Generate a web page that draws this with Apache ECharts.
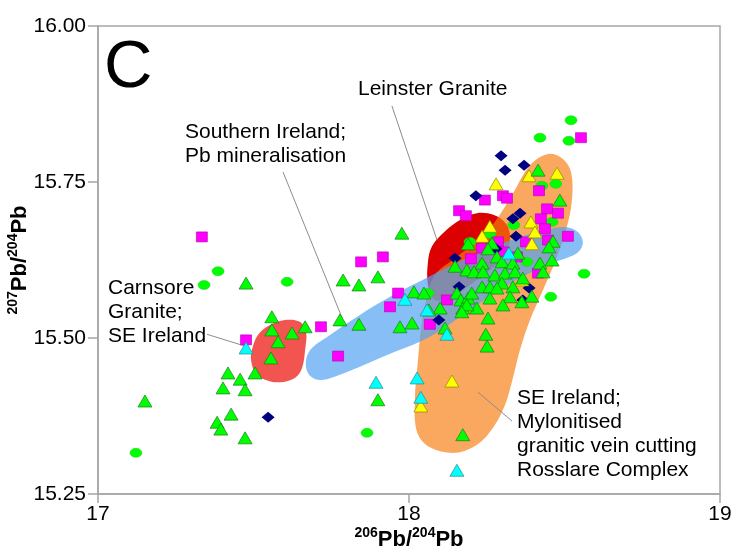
<!DOCTYPE html>
<html>
<head>
<meta charset="utf-8">
<script src="https://cdn.jsdelivr.net/npm/echarts@6/dist/echarts.min.js"></script>
<style>
  html, body { margin: 0; padding: 0; background: #fff; }
  #chart { width: 731px; height: 550px; }
</style>
</head>
<body>
<div id="chart"></div>
<script>
// axis ticks
const xTicks = [17, 18, 19];
const yTicks = [15.25, 15.5, 15.75, 16.0];

// sample groups (206Pb/204Pb, 207Pb/204Pb)
const greenTriangles = [
  [17.151,15.399],[17.476,15.588],[17.418,15.444],[17.457,15.434],[17.402,15.420],[17.473,15.417],
  [17.383,15.365],[17.395,15.354],[17.428,15.378],[17.473,15.340],[17.505,15.444],[17.559,15.534],
  [17.559,15.513],[17.579,15.494],[17.624,15.508],[17.666,15.518],[17.556,15.468],[17.778,15.529],
  [17.839,15.522],[17.788,15.593],[17.839,15.585],[17.900,15.598],[17.977,15.668],[17.971,15.518],
  [18.010,15.524],[18.016,15.574],[18.048,15.572],[18.116,15.516],[17.900,15.401],[18.173,15.345],
  [18.148,15.615],[18.154,15.572],[18.415,15.769],[18.485,15.721],[18.463,15.655],[18.267,15.652],
  [18.190,15.651],[18.450,15.646],[18.350,15.636],[18.235,15.620],[18.254,15.643],[18.186,15.609],
  [18.209,15.606],[18.238,15.606],[18.283,15.630],[18.167,15.561],[18.190,15.564],[18.235,15.582],
  [18.260,15.582],[18.218,15.548],[18.173,15.548],[18.100,15.548],[18.064,15.545],[18.202,15.572],
  [18.460,15.625],[18.421,15.620],[18.431,15.606],[18.299,15.622],[18.334,15.620],[18.276,15.601],
  [18.309,15.604],[18.341,15.606],[18.366,15.596],[18.299,15.588],[18.334,15.582],[18.283,15.580],
  [18.325,15.566],[18.260,15.564],[18.395,15.567],[18.302,15.553],[18.363,15.558],[18.254,15.532],
  [18.247,15.506],[18.251,15.487],[18.186,15.553],[18.170,15.542]
];
const greenCircles = [
  [17.122,15.316],[17.386,15.607],[17.341,15.585],[17.608,15.590],[17.865,15.348],[18.061,15.572],
  [18.521,15.849],[18.421,15.821],[18.514,15.816],[18.427,15.744],[18.472,15.747],[18.337,15.681],
  [18.460,15.686],[18.563,15.603],[18.260,15.667],[18.196,15.654],[18.379,15.622],[18.456,15.566]
];
const magentaSquares = [
  [17.334,15.662],[17.476,15.497],[17.717,15.518],[17.772,15.471],[17.846,15.622],[17.916,15.630],
  [17.965,15.572],[17.939,15.550],[18.067,15.522],[18.122,15.561],[18.161,15.704],[18.183,15.696],
  [18.553,15.821],[18.418,15.736],[18.244,15.721],[18.302,15.728],[18.315,15.724],[18.444,15.707],
  [18.479,15.700],[18.424,15.691],[18.437,15.675],[18.511,15.663],[18.376,15.654],[18.447,15.657],
  [18.286,15.654],[18.199,15.627],[18.235,15.644],[18.415,15.604],[18.347,15.630],[18.305,15.638]
];
const navyDiamonds = [
  [17.547,15.373],[18.096,15.529],[18.148,15.628],[18.161,15.582],[18.296,15.792],[18.309,15.769],
  [18.370,15.777],[18.215,15.728],[18.357,15.700],[18.334,15.691],[18.344,15.663],[18.280,15.643],
  [18.386,15.580],[18.366,15.561]
];
const yellowTriangles = [
  [18.386,15.760],[18.476,15.764],[18.280,15.747],[18.260,15.679],[18.235,15.663],[18.392,15.686],
  [18.405,15.670],[18.395,15.651],[18.138,15.431],[18.038,15.391],[18.363,15.593]
];
const cyanTriangles = [
  [17.476,15.484],[17.987,15.562],[18.058,15.545],[18.122,15.506],[18.321,15.636],[17.894,15.429],
  [18.026,15.436],[18.038,15.405],[18.154,15.288]
];

// field outlines
const carnsoreOutline = [
  [17.495,15.481],[17.514,15.505],[17.553,15.521],[17.601,15.529],[17.649,15.526],[17.669,15.510],
  [17.666,15.481],[17.656,15.452],[17.633,15.436],[17.585,15.429],[17.537,15.433],[17.505,15.445],
  [17.492,15.465]
];
const leinsterOutline = [
  [18.061,15.622],[18.074,15.647],[18.116,15.671],[18.164,15.689],[18.218,15.700],[18.273,15.697],
  [18.312,15.683],[18.325,15.660],[18.309,15.633],[18.260,15.609],[18.196,15.585],[18.132,15.564],
  [18.083,15.561],[18.061,15.585]
];
const myloniteOutline = [
  [18.447,15.795],[18.492,15.788],[18.521,15.766],[18.524,15.721],[18.505,15.673],[18.472,15.625],
  [18.431,15.577],[18.389,15.529],[18.357,15.481],[18.334,15.436],[18.309,15.393],[18.270,15.356],
  [18.222,15.330],[18.151,15.316],[18.067,15.325],[18.026,15.349],[18.019,15.401],[18.029,15.465],
  [18.038,15.513],[18.055,15.561],[18.083,15.601],[18.148,15.628],[18.222,15.657],[18.276,15.686],
  [18.331,15.729],[18.389,15.777]
];
const pbMinOutline = [
  [17.669,15.465],[17.688,15.484],[17.746,15.505],[17.842,15.537],[17.939,15.566],[18.067,15.599],
  [18.164,15.623],[18.260,15.644],[18.357,15.662],[18.437,15.673],[18.501,15.678],[18.543,15.670],
  [18.559,15.652],[18.537,15.635],[18.453,15.619],[18.357,15.596],[18.292,15.577],[18.196,15.545],
  [18.067,15.502],[17.916,15.470],[17.756,15.437],[17.707,15.433],[17.675,15.444]
];

// leader lines from labels to fields
const carnsoreLeader = [[17.350,15.506],[17.473,15.487]];
const pbMinLeader = [[17.595,15.766],[17.785,15.532]];
const leinsterLeader = [[17.945,15.872],[18.090,15.657]];
const myloniteLeader = [[18.222,15.413],[18.331,15.367]];

const FONT = 'Liberation Sans, Arial, sans-serif';

const regionSeries = (outline, color, z) => ({
  type: 'custom',
  silent: true,
  z: z,
  data: outline,
  renderItem: (params, api) => {
    if (params.dataIndex !== 0) return;
    return {
      type: 'polygon',
      shape: { points: outline.map(p => api.coord(p)), smooth: 0.35 },
      style: { fill: color }
    };
  }
});

const leader = (pts) => [{ coord: pts[0] }, { coord: pts[1] }];

const nameRich = {
  s: { fontSize: 14, fontWeight: 'bold', color: '#000', verticalAlign: 'top', lineHeight: 16, fontFamily: FONT },
  b: { fontSize: 22, fontWeight: 'bold', color: '#000', lineHeight: 28, fontFamily: FONT }
};

const chart = echarts.init(document.getElementById('chart'));

chart.setOption({
  animation: false,
  textStyle: { fontFamily: FONT },
  grid: {
    left: 98, right: 11, top: 26, bottom: 56,
    containLabel: false,
    outerBoundsMode: 'none',
    show: true, borderColor: '#a6a6a6', borderWidth: 1.5
  },
  xAxis: {
    type: 'value',
    min: xTicks[0], max: xTicks[xTicks.length - 1], interval: 1,
    name: '{s|206}{b|Pb/}{s|204}{b|Pb}',
    nameLocation: 'middle', nameGap: 32, nameMoveOverlap: false,
    nameTextStyle: { rich: nameRich },
    axisLine: { lineStyle: { color: '#a6a6a6', width: 1.5 } },
    axisTick: { show: true, length: 9, lineStyle: { color: '#a6a6a6', width: 1.5 } },
    axisLabel: { fontSize: 21, color: '#000', margin: 10 },
    splitLine: { show: false }
  },
  yAxis: {
    type: 'value',
    min: yTicks[0], max: yTicks[yTicks.length - 1], interval: 0.25,
    name: '{s|207}{b|Pb/}{s|204}{b|Pb}',
    nameLocation: 'middle', nameGap: 64, nameMoveOverlap: false,
    nameTextStyle: { rich: nameRich },
    axisLine: { show: true, lineStyle: { color: '#a6a6a6', width: 1.5 } },
    axisTick: { show: true, length: 10, lineStyle: { color: '#a6a6a6', width: 1.5 } },
    axisLabel: { fontSize: 21, color: '#000', margin: 12, formatter: v => v.toFixed(2) },
    splitLine: { show: false }
  },
  graphic: [
    { type: 'text', x: 104, y: 35, style: { text: 'C', font: '67px ' + FONT, fill: '#000' } },
    { type: 'text', x: 358, y: 79, style: { text: 'Leinster Granite', font: '21px ' + FONT, fill: '#000' } },
    { type: 'text', x: 185, y: 120, style: { text: 'Southern Ireland;\nPb mineralisation', font: '21px ' + FONT, lineHeight: 24, fill: '#000' } },
    { type: 'text', x: 108, y: 276, style: { text: 'Carnsore\nGranite;\nSE Ireland', font: '21px ' + FONT, lineHeight: 24, fill: '#000' } },
    { type: 'text', x: 517, y: 386, style: { text: 'SE Ireland;\nMylonitised\ngranitic vein cutting\nRosslare Complex', font: '21px ' + FONT, lineHeight: 24, fill: '#000' } }
  ],
  series: [
    regionSeries(leinsterOutline, '#dd0000', 1),
    regionSeries(carnsoreOutline, '#f25550', 1),
    regionSeries(myloniteOutline, 'rgba(247,125,16,0.67)', 2),
    regionSeries(pbMinOutline, 'rgba(84,163,241,0.7)', 3),
    {
      type: 'scatter', z: 4, silent: true,
      data: greenCircles, symbol: 'circle', symbolSize: [12, 9],
      itemStyle: { color: '#00ff00', borderColor: '#22cc22', borderWidth: 0.5, opacity: 1 },
      markLine: {
        silent: true, symbol: 'none', animation: false,
        label: { show: false },
        lineStyle: { color: '#8c8c8c', width: 1, type: 'solid' },
        data: [leader(carnsoreLeader), leader(pbMinLeader), leader(leinsterLeader), leader(myloniteLeader)]
      }
    },
    {
      type: 'scatter', z: 5, silent: true,
      data: magentaSquares, symbol: 'rect', symbolSize: [11, 10],
      itemStyle: { color: '#ff00ff', borderColor: '#b000b0', borderWidth: 0.6, opacity: 1 }
    },
    {
      type: 'scatter', z: 6, silent: true,
      data: navyDiamonds, symbol: 'diamond', symbolSize: [13, 11],
      itemStyle: { color: '#000080', opacity: 1 }
    },
    {
      type: 'scatter', z: 7, silent: true,
      data: yellowTriangles, symbol: 'triangle', symbolSize: [14, 12],
      itemStyle: { color: '#ffff00', borderColor: '#8a8a00', borderWidth: 0.7, opacity: 1 }
    },
    {
      type: 'scatter', z: 8, silent: true,
      data: greenTriangles, symbol: 'triangle', symbolSize: [14, 12],
      itemStyle: { color: '#00ff00', borderColor: '#1a7a1a', borderWidth: 0.7, opacity: 1 }
    },
    {
      type: 'scatter', z: 9, silent: true,
      data: cyanTriangles, symbol: 'triangle', symbolSize: [14, 12],
      itemStyle: { color: '#00ffff', borderColor: '#2a8a8a', borderWidth: 0.7, opacity: 1 }
    }
  ]
});
</script>
</body>
</html>
